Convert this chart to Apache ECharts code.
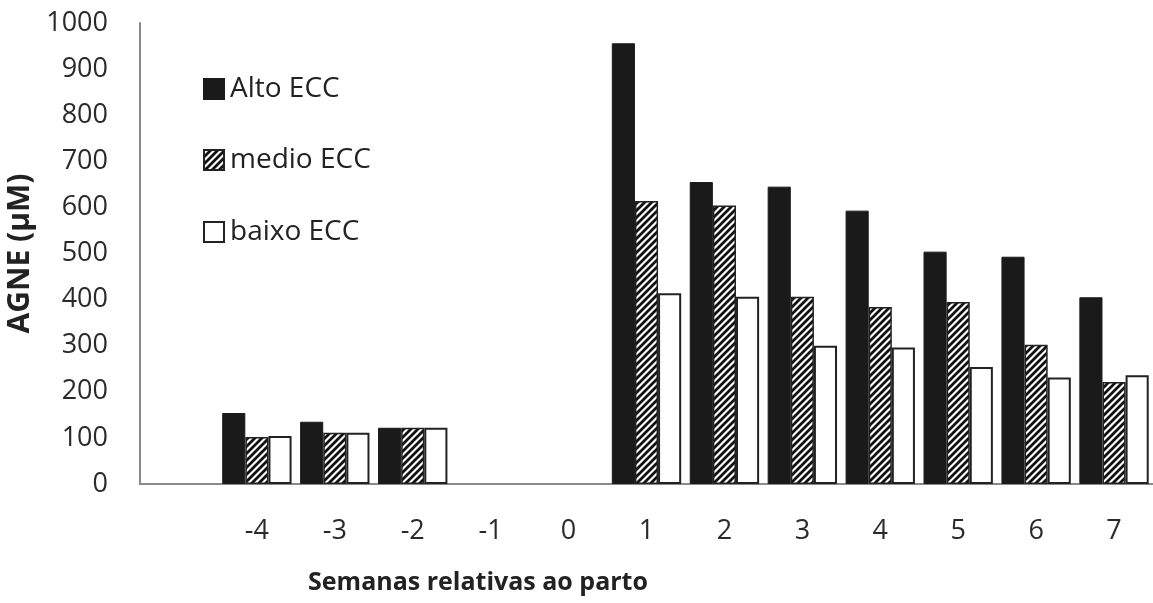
<!DOCTYPE html>
<html>
<head>
<meta charset="utf-8">
<script src="https://cdn.jsdelivr.net/npm/echarts@6/dist/echarts.min.js"></script>
<style>
  html, body { margin: 0; padding: 0; background: #fff; }
  #chart { width: 1153px; height: 603px; }
</style>
</head>
<body>
<div id="chart"></div>
<script>
  // semanas relativas ao parto (first slot is an empty category)
  var weeks = ['', '-4', '-3', '-2', '-1', '0', '1', '2', '3', '4', '5', '6', '7'];
  var alto  = [null, 154, 135, 122, null, null, 956, 655, 645, 593, 504, 493, 405];
  var medio = [null, 102, 111, 122, null, null, 614, 604, 406, 384, 395, 302, 221];
  var baixo = [null, 104, 111, 122, null, null, 414, 406, 300, 296, 254, 231, 236];
  var yTicks = [0, 1000, 100];

  // diagonal hatch for "medio"
  function hatch() {
    var c = document.createElement('canvas');
    c.width = 7; c.height = 7;
    var ctx = c.getContext('2d');
    ctx.fillStyle = '#fff';
    ctx.fillRect(0, 0, 7, 7);
    ctx.strokeStyle = '#111';
    ctx.lineWidth = 2.8;
    ctx.beginPath();
    ctx.moveTo(-1, 8); ctx.lineTo(8, -1);
    ctx.moveTo(-5, 5); ctx.lineTo(5, -5);
    ctx.moveTo(2, 12); ctx.lineTo(12, 2);
    ctx.stroke();
    return c;
  }

  var font = '"Open Sans", sans-serif';
  var chart = echarts.init(document.getElementById('chart'));

  function legendAt(name, top) {
    return {
      data: [{ name: name, icon: 'rect' }],
      left: 198,
      top: top,
      itemWidth: 20,
      itemHeight: 20,
      itemGap: 0,
      selectedMode: false,
      textStyle: { fontFamily: font, fontSize: 28, color: '#222', padding: [0, 0, 0, 1] }
    };
  }

  chart.setOption({
    animation: false,
    legend: [legendAt('Alto ECC', 70), legendAt('medio ECC', 141), legendAt('baixo ECC', 213)],
    grid: { left: 140, right: 0, top: 23, bottom: 119, outerBoundsMode: 'none' },
    xAxis: {
      type: 'category',
      data: weeks,
      axisLine: { lineStyle: { color: '#8a8a8a', width: 2 } },
      axisTick: { show: false },
      axisLabel: { fontFamily: font, fontSize: 27, color: '#2a2a2a', margin: 34 }
    },
    yAxis: {
      type: 'value',
      min: yTicks[0],
      max: yTicks[1],
      interval: yTicks[2],
      name: 'AGNE (µM)',
      nameLocation: 'middle',
      nameGap: 96,
      nameTextStyle: { fontFamily: font, fontSize: 30, fontWeight: 'bold', color: '#222' },
      axisLine: { show: true, lineStyle: { color: '#8a8a8a', width: 2 } },
      axisTick: { show: false },
      splitLine: { show: false },
      axisLabel: {
        fontFamily: font, fontSize: 27, color: '#2a2a2a', margin: 32,
        formatter: function (v) { return String(v); }
      }
    },
    graphic: [{
      type: 'text',
      x: 478,
      y: 583,
      style: {
        text: 'Semanas relativas ao parto',
        fontFamily: font,
        fontSize: 25,
        fontWeight: 'bold',
        fill: '#222',
        align: 'center',
        verticalAlign: 'middle'
      }
    }],
    series: [
      {
        name: 'Alto ECC', type: 'bar', data: alto,
        barGap: 0, barCategoryGap: '11%',
        itemStyle: { color: '#1a1a1a', borderColor: '#1a1a1a', borderWidth: 1 }
      },
      {
        name: 'medio ECC', type: 'bar', data: medio,
        barGap: 0, barCategoryGap: '11%',
        itemStyle: { color: { image: hatch(), repeat: 'repeat' }, borderColor: '#222', borderWidth: 1.5 }
      },
      {
        name: 'baixo ECC', type: 'bar', data: baixo,
        barGap: 0, barCategoryGap: '11%',
        itemStyle: { color: '#fff', borderColor: '#222', borderWidth: 2 }
      }
    ]
  });
</script>
</body>
</html>
